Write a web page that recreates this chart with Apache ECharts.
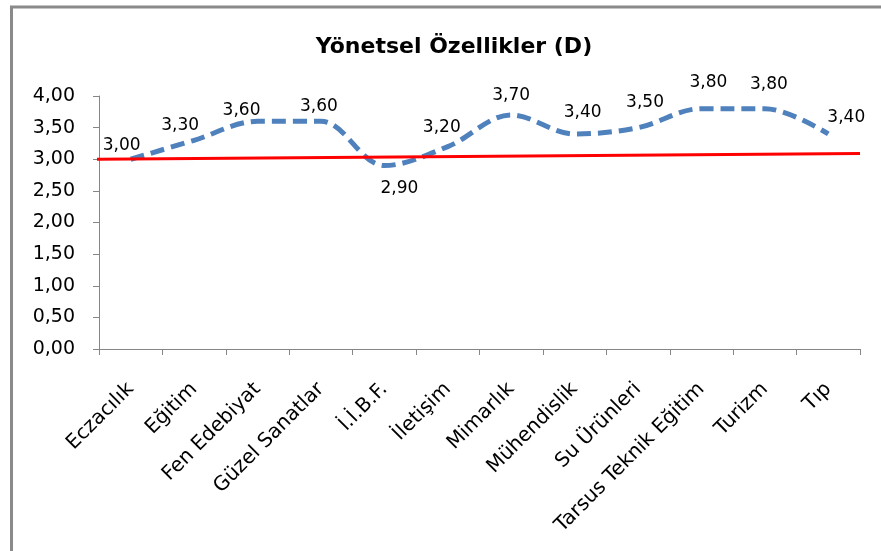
<!DOCTYPE html>
<html>
<head>
<meta charset="utf-8">
<script src="https://cdn.jsdelivr.net/npm/echarts@6/dist/echarts.min.js"></script>
<style>
  html, body { margin: 0; padding: 0; background: #ffffff; }
  #chart { width: 881px; height: 551px; }
</style>
</head>
<body>
<div id="chart"></div>
<script>
// Faculties (x-axis categories)
const categories = [
  'Eczacılık', 'Eğitim', 'Fen Edebiyat', 'Güzel Sanatlar', 'İ.İ.B.F.', 'İletişim',
  'Mimarlık', 'Mühendislik', 'Su Ürünleri', 'Tarsus Teknik Eğitim', 'Turizm', 'Tıp'
];
// Mean scores per faculty
const scores = [3.00, 3.30, 3.60, 3.60, 2.90, 3.20, 3.70, 3.40, 3.50, 3.80, 3.80, 3.40];
// Reference line: start and end values (x in category-index units)
const refLine = [[-0.6, 3.00], [11.5, 3.09]];
// Y-axis scale
const yMin = 0, yMax = 4, yStep = 0.5;

// Per-point value label nudges [dx, dy] in pixels, from the point to the label centre
const labelOffsets = [
  [-9, -14], [-14, -15], [-16, -11], [-2, -15], [15, 23], [-6, -19],
  [0, -19], [8, -21], [7, -25], [7, -26], [4, -24], [18, -16]
];

const fmt = v => v.toFixed(2).replace('.', ',');
const axisGray = '#868686';

const chart = echarts.init(document.getElementById('chart'), null, { renderer: 'canvas' });

chart.setOption({
  backgroundColor: '#ffffff',
  animation: false,
  title: {
    text: 'Yönetsel Özellikler (D)',
    left: 449,
    top: 31,
    textAlign: 'center',
    textStyle: { fontFamily: 'DejaVu Sans', fontWeight: 'bold', fontSize: 22, color: '#000000' }
  },
  graphic: [{
    type: 'rect',
    shape: { x: 11.5, y: 7, width: 900, height: 600 },
    style: { fill: 'none', stroke: '#8a8a8a', lineWidth: 3 },
    silent: true,
    z: -1
  }],
  grid: { left: 99, right: 21, top: 96, bottom: 202, containLabel: false },
  xAxis: [{
    type: 'category',
    data: categories,
    boundaryGap: true,
    axisLine: { lineStyle: { color: axisGray, width: 1 } },
    axisTick: { show: true, alignWithLabel: false, length: 6, lineStyle: { color: axisGray } },
    axisLabel: {
      rotate: 45,
      margin: 37,
      interval: 0,
      fontFamily: 'DejaVu Sans',
      fontSize: 20,
      color: '#000000'
    },
    splitLine: { show: false }
  }, {
    type: 'value',
    min: -0.5,
    max: 11.5,
    show: false
  }],
  yAxis: {
    type: 'value',
    min: yMin,
    max: yMax,
    interval: yStep,
    axisLine: { show: true, onZero: false, lineStyle: { color: axisGray, width: 1 } },
    axisTick: { show: true, length: 6, lineStyle: { color: axisGray } },
    axisLabel: {
      margin: 24,
      fontFamily: 'DejaVu Sans',
      fontSize: 19,
      color: '#000000',
      formatter: v => fmt(v)
    },
    splitLine: { show: false }
  },
  series: [{
    name: 'Ortalama',
    type: 'line',
    xAxisIndex: 0,
    data: scores,
    smooth: 0.35,
    symbol: 'none',
    lineStyle: { color: '#4F81BD', width: 5, type: [14, 7], cap: 'butt' },
    z: 3
  }, {
    // value labels placed next to each point of the line
    name: 'Değerler',
    type: 'custom',
    xAxisIndex: 0,
    data: scores.map((v, i) => [i, v]),
    encode: { x: 0, y: 1 },
    renderItem: (params, api) => {
      const i = api.value(0);
      const v = api.value(1);
      const p = api.coord([i, v]);
      const off = labelOffsets[params.dataIndex];
      return {
        type: 'text',
        x: p[0] + off[0],
        y: p[1] + off[1],
        style: {
          text: fmt(v),
          fontFamily: 'DejaVu Sans',
          fontSize: 17,
          fill: '#000000',
          align: 'center',
          verticalAlign: 'middle'
        }
      };
    },
    z: 5
  }, {
    name: 'Referans',
    type: 'line',
    xAxisIndex: 1,
    data: refLine,
    symbol: 'none',
    clip: false,
    lineStyle: { color: '#FF0000', width: 3 },
    z: 4
  }]
});
</script>
</body>
</html>
